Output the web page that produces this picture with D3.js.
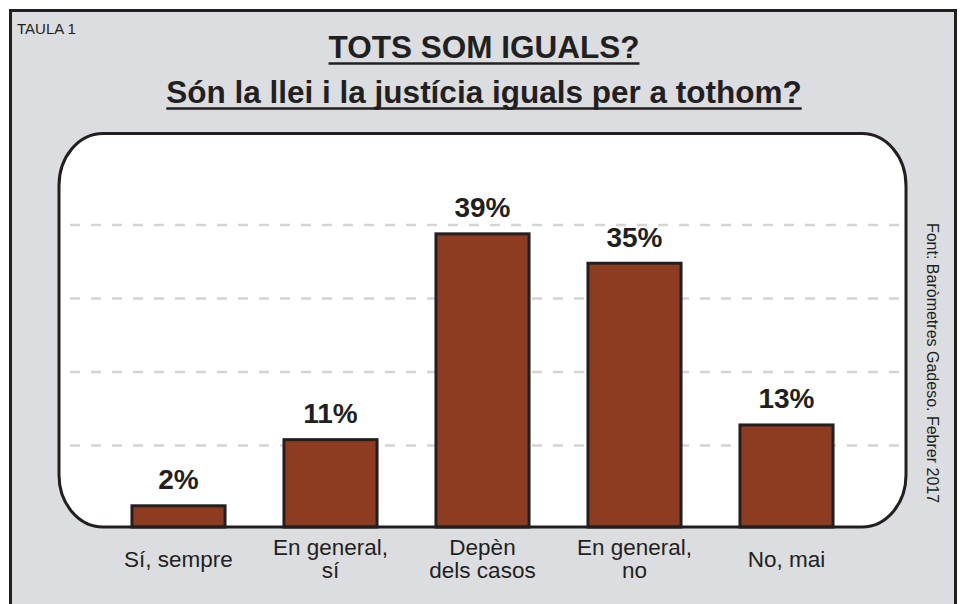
<!DOCTYPE html>
<html>
<head>
<meta charset="utf-8">
<script src="https://cdn.jsdelivr.net/npm/d3@7"></script>
<style>
  body { margin: 0; background: #fff; }
  svg { display: block; font-family: "Liberation Sans", Arial, Helvetica, sans-serif; }
</style>
</head>
<body>
<svg id="chart" width="962" height="604"></svg>
<script>
// categories, split into the lines shown under each bar
const categoryLines = [
    ["Sí, sempre"],
    ["En general,", "sí"],
    ["Depèn", "dels casos"],
    ["En general,", "no"],
    ["No, mai"]
];
const categories = categoryLines.map(d => d.join(" "));
const values = [2, 11, 39, 35, 13];
const gridTicks = [10, 20, 30, 40];

const tableLabel = "TAULA 1";
const title = "TOTS SOM IGUALS?";
const subtitle = "Són la llei i la justícia iguals per a tothom?";
const source = "Font: Baròmetres Gadeso. Febrer 2017";

const ink = "#231f20";
const barColor = "#8d3c21";

const svg = d3.select("#chart");

// outer grey panel
svg.append("rect")
    .attr("x", 10.5).attr("y", 10.5)
    .attr("width", 945).attr("height", 620)
    .attr("fill", "#dcdde0")
    .attr("stroke", ink).attr("stroke-width", 3);

svg.append("text")
    .attr("x", 17).attr("y", 34)
    .attr("font-size", 15)
    .attr("fill", ink)
    .text(tableLabel);

// titles with underline
function underlined(txt, y) {
    const t = svg.append("text")
        .attr("x", 484).attr("y", y)
        .attr("text-anchor", "middle")
        .attr("font-size", 31.5)
        .attr("font-weight", "bold")
        .attr("fill", ink)
        .text(txt);
    const w = t.node().getComputedTextLength();
    svg.append("line")
        .attr("x1", 484 - w / 2).attr("x2", 484 + w / 2)
        .attr("y1", y + 5.5).attr("y2", y + 5.5)
        .attr("stroke", ink).attr("stroke-width", 2.5);
}
underlined(title, 58);
underlined(subtitle, 103);

// plot box
const box = {left: 59, top: 133.5, right: 906, bottom: 527};

svg.append("rect")
    .attr("x", box.left).attr("y", box.top)
    .attr("width", box.right - box.left).attr("height", box.bottom - box.top)
    .attr("rx", 44).attr("ry", 52)
    .attr("fill", "#fff");

const x = d3.scaleBand()
    .domain(categories)
    .range([102.5, 862.5])
    .paddingInner(0.368)
    .paddingOuter(0.184);

const y = d3.scaleLinear()
    .domain([0, 40])
    .range([519, 225]);

// dashed gridlines
svg.append("g")
    .selectAll("line")
    .data(gridTicks)
    .join("line")
    .attr("x1", 70).attr("x2", 902)
    .attr("y1", d => y(d)).attr("y2", d => y(d))
    .attr("stroke", "#d3d4d6")
    .attr("stroke-width", 2.5)
    .attr("stroke-dasharray", "10,11");

// bars
svg.append("g")
    .selectAll("rect")
    .data(values)
    .join("rect")
    .attr("x", (d, i) => x(categories[i]) + 1.5)
    .attr("width", x.bandwidth() - 3)
    .attr("y", d => y(d) + 1.5)
    .attr("height", d => box.bottom - y(d) - 1.5)
    .attr("fill", barColor)
    .attr("stroke", ink)
    .attr("stroke-width", 3);

// box outline on top
svg.append("rect")
    .attr("x", box.left).attr("y", box.top)
    .attr("width", box.right - box.left).attr("height", box.bottom - box.top)
    .attr("rx", 44).attr("ry", 52)
    .attr("fill", "none")
    .attr("stroke", ink).attr("stroke-width", 3);

// value labels
svg.append("g")
    .selectAll("text")
    .data(values)
    .join("text")
    .attr("x", (d, i) => x(categories[i]) + x.bandwidth() / 2)
    .attr("y", d => y(d) - 15)
    .attr("text-anchor", "middle")
    .attr("font-size", 28)
    .attr("font-weight", "bold")
    .attr("fill", ink)
    .text(d => d + "%");

// category labels, one text per line
const catRows = [];
categoryLines.forEach((lines, i) => {
    lines.forEach((l, j) => {
        catRows.push({l, i, yy: lines.length > 1 ? 555 + j * 23 : 567});
    });
});

svg.append("g")
    .selectAll("text")
    .data(catRows)
    .join("text")
    .attr("x", d => x(categories[d.i]) + x.bandwidth() / 2)
    .attr("y", d => d.yy)
    .attr("text-anchor", "middle")
    .attr("font-size", 22.5)
    .attr("fill", ink)
    .text(d => d.l);

// source, rotated
svg.append("text")
    .attr("transform", "translate(927,363) rotate(90)")
    .attr("text-anchor", "middle")
    .attr("font-size", 16)
    .attr("fill", ink)
    .text(source);
</script>
</body>
</html>
